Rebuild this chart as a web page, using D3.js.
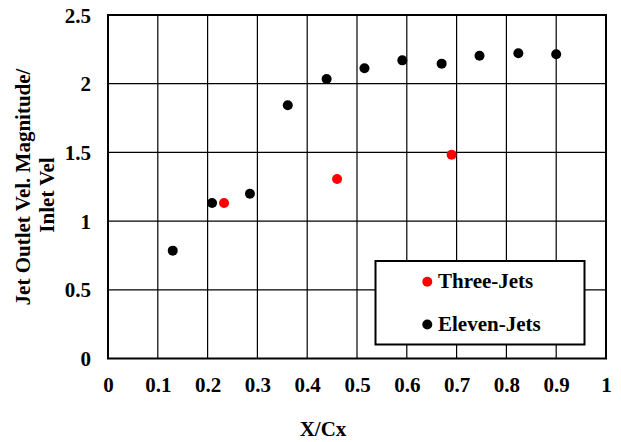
<!DOCTYPE html>
<html>
<head>
<meta charset="utf-8">
<script src="https://cdn.jsdelivr.net/npm/d3@7"></script>
<style>
  html, body { margin: 0; padding: 0; background: #fff; }
  svg text { font-family: "Liberation Serif", "Times New Roman", serif; font-weight: bold; fill: #000; }
</style>
</head>
<body>
<svg id="chart" width="621" height="442"></svg>
<script>
// Jet outlet velocity magnitude normalised by inlet velocity, along X/Cx
const threeJetsX = [0.233, 0.460, 0.690];
const threeJetsY = [1.132, 1.306, 1.483];
const elevenJetsX = [0.130, 0.209, 0.285, 0.361, 0.439, 0.515, 0.591, 0.670, 0.746, 0.824, 0.900];
const elevenJetsY = [0.785, 1.132, 1.199, 1.843, 2.034, 2.112, 2.170, 2.146, 2.204, 2.221, 2.214];
const xTicks = [0, 0.1, 0.2, 0.3, 0.4, 0.5, 0.6, 0.7, 0.8, 0.9, 1];
const xTickLabels = ["0", "0.1", "0.2", "0.3", "0.4", "0.5", "0.6", "0.7", "0.8", "0.9", "1"];
const yTicks = [0, 0.5, 1, 1.5, 2, 2.5];
const yTickLabels = ["0", "0.5", "1", "1.5", "2", "2.5"];
const seriesNames = ["Three-Jets", "Eleven-Jets"];
const seriesColors = ["#ff0000", "#000000"];

const svg = d3.select("#chart");
const plotLeft = 108, plotRight = 606, plotTop = 15, plotBottom = 358.5;
const fontSize = "21px";

const x = d3.scaleLinear().domain([0, 1]).range([plotLeft, plotRight]);
const y = d3.scaleLinear().domain([0, 2.5]).range([plotBottom, plotTop]);

// grid lines
const grid = svg.append("g");
grid.selectAll("line.v").data(xTicks.slice(1, -1)).enter().append("line")
  .attr("x1", d => x(d)).attr("x2", d => x(d))
  .attr("y1", plotTop).attr("y2", plotBottom)
  .attr("stroke", "#000").attr("stroke-width", 1.2);
grid.selectAll("line.h").data(yTicks.slice(1, -1)).enter().append("line")
  .attr("x1", plotLeft).attr("x2", plotRight)
  .attr("y1", d => y(d)).attr("y2", d => y(d))
  .attr("stroke", "#000").attr("stroke-width", 1.2);

// plot frame
svg.append("rect")
  .attr("x", plotLeft).attr("y", plotTop)
  .attr("width", plotRight - plotLeft).attr("height", plotBottom - plotTop)
  .attr("fill", "none").attr("stroke", "#000").attr("stroke-width", 2);

// axes (labels only; lines drawn above)
const xAxis = d3.axisBottom(x).tickValues(xTicks)
  .tickFormat((d, i) => xTickLabels[i]).tickSize(0).tickPadding(0);
const gx = svg.append("g").attr("transform", `translate(0,${plotBottom})`).call(xAxis);
gx.select(".domain").remove();
gx.selectAll("text").attr("dy", null).attr("y", 33).style("font-size", fontSize);

const yAxis = d3.axisLeft(y).tickValues(yTicks)
  .tickFormat((d, i) => yTickLabels[i]).tickSize(0).tickPadding(0);
const gy = svg.append("g").attr("transform", `translate(91,0)`).call(yAxis);
gy.select(".domain").remove();
gy.selectAll("text").attr("dy", null).attr("y", 7).style("font-size", fontSize);

// data points
function drawSeries(xs, ys, color) {
  svg.append("g").selectAll("circle").data(xs).enter().append("circle")
    .attr("cx", d => x(d))
    .attr("cy", (d, i) => y(ys[i]))
    .attr("r", 5)
    .attr("fill", color);
}
drawSeries(elevenJetsX, elevenJetsY, seriesColors[1]);
drawSeries(threeJetsX, threeJetsY, seriesColors[0]);

// axis titles
svg.append("text").attr("x", 323).attr("y", 436)
  .attr("text-anchor", "middle").style("font-size", fontSize).text("X/Cx");

svg.append("text")
  .attr("transform", "translate(30,187) rotate(-90)")
  .attr("text-anchor", "middle").style("font-size", fontSize)
  .text("Jet Outlet Vel. Magnitude/");
svg.append("text")
  .attr("transform", "translate(54,195) rotate(-90)")
  .attr("text-anchor", "middle").style("font-size", fontSize)
  .text("Inlet Vel");

// legend
const legend = svg.append("g");
legend.append("rect")
  .attr("x", 375.5).attr("y", 261).attr("width", 209).attr("height", 83.5)
  .attr("fill", "#fff").attr("stroke", "#000").attr("stroke-width", 2);
const legendRows = [281.7, 324.5];
seriesNames.forEach((name, i) => {
  legend.append("circle").attr("cx", 427.3).attr("cy", legendRows[i]).attr("r", 5)
    .attr("fill", seriesColors[i]);
  legend.append("text").attr("x", 438).attr("y", legendRows[i] + 6.5)
    .style("font-size", fontSize).text(name);
});
</script>
</body>
</html>
